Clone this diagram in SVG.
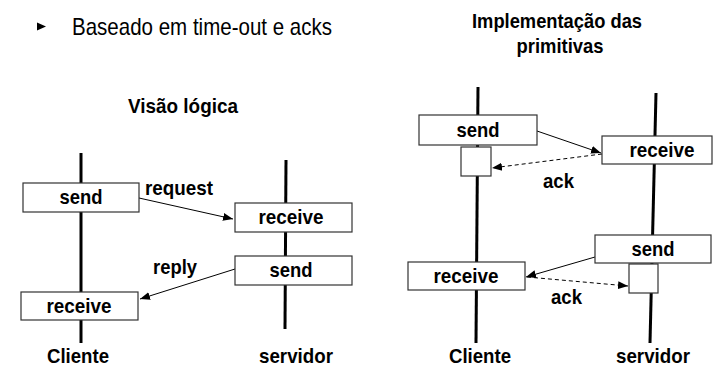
<svg xmlns="http://www.w3.org/2000/svg" width="713" height="375" viewBox="0 0 713 375">
  <defs>
    <style>
      .life { stroke: #000; stroke-width: 3; fill: none; }
      .box rect { fill: #fff; stroke: #333; stroke-width: 1.2; }
      .lbl { font-family: "Liberation Sans Narrow", "Liberation Sans", Arial, sans-serif; font-weight: bold; font-size: 21px; fill: #000; }
      .mid { text-anchor: middle; }
      .msg { stroke: #000; stroke-width: 1; fill: none; marker-end: url(#head); }
      .ack { stroke: #000; stroke-width: 1; fill: none; stroke-dasharray: 4 3; marker-end: url(#head); }
    </style>
    <marker id="head" viewBox="0 0 10 10" refX="10" refY="5" markerWidth="10" markerHeight="10" markerUnits="userSpaceOnUse" orient="auto">
      <path d="M0,1 L10,5 L0,9 Z" fill="#000"/>
    </marker>
  </defs>
  <rect width="713" height="375" fill="#fff"/>

  <!-- heading bullet -->
  <g id="heading">
    <path d="M37,22.5 L46,26.5 L37,30.5 Z" fill="#000"/>
    <text x="72" y="35" font-family="'Liberation Sans Narrow', 'Liberation Sans', Arial, sans-serif" font-size="24" textLength="260" lengthAdjust="spacingAndGlyphs" fill="#000">Baseado em time-out e acks</text>
  </g>

  <!-- section titles -->
  <g id="title-logica">
    <text class="lbl mid" x="183" y="113" textLength="110" lengthAdjust="spacingAndGlyphs">Visão lógica</text>
  </g>
  <g id="title-impl">
    <text class="lbl mid" x="557" y="28" textLength="170" lengthAdjust="spacingAndGlyphs">Implementação das</text>
    <text class="lbl mid" x="560" y="53" textLength="87" lengthAdjust="spacingAndGlyphs">primitivas</text>
  </g>

  <!-- lifelines -->
  <g id="lifelines">
    <line class="life" x1="81" y1="153" x2="81" y2="343"/>
    <line class="life" x1="286" y1="160" x2="285" y2="329"/>
    <line class="life" x1="478" y1="87" x2="476" y2="343"/>
    <line class="life" x1="656" y1="93" x2="650" y2="343"/>
  </g>

  <!-- connectors -->
  <g id="connectors">
    <line class="msg" x1="139" y1="198" x2="233" y2="219"/>
    <line class="msg" x1="235" y1="269" x2="140" y2="299"/>
    <line class="msg" x1="537" y1="131" x2="601" y2="153"/>
    <line class="ack" x1="602" y1="154" x2="492" y2="168"/>
    <line class="msg" x1="595" y1="257" x2="526" y2="277"/>
    <line class="ack" x1="527" y1="277" x2="628" y2="286"/>
  </g>

  <!-- connector labels -->
  <g id="connector-labels">
    <text class="lbl" x="145" y="195" textLength="68" lengthAdjust="spacingAndGlyphs">request</text>
    <text class="lbl" x="153" y="274" textLength="44" lengthAdjust="spacingAndGlyphs">reply</text>
    <text class="lbl" x="543" y="188" textLength="31" lengthAdjust="spacingAndGlyphs">ack</text>
    <text class="lbl" x="551" y="304" textLength="31" lengthAdjust="spacingAndGlyphs">ack</text>
  </g>

  <!-- logical view nodes -->
  <g id="l-client-send" class="box">
    <rect x="23" y="183" width="116" height="29"/>
    <text class="lbl mid" x="81" y="204" textLength="43" lengthAdjust="spacingAndGlyphs">send</text>
  </g>
  <g id="l-server-receive" class="box">
    <rect x="235" y="203" width="117" height="29"/>
    <text class="lbl mid" x="291" y="224" textLength="65" lengthAdjust="spacingAndGlyphs">receive</text>
  </g>
  <g id="l-server-send" class="box">
    <rect x="235" y="256" width="117" height="29"/>
    <text class="lbl mid" x="291" y="277" textLength="43" lengthAdjust="spacingAndGlyphs">send</text>
  </g>
  <g id="l-client-receive" class="box">
    <rect x="21" y="292" width="117" height="28"/>
    <text class="lbl mid" x="79" y="313" textLength="65" lengthAdjust="spacingAndGlyphs">receive</text>
  </g>

  <!-- implementation nodes -->
  <g id="i-client-send" class="box">
    <rect x="419" y="115" width="118" height="30"/>
    <text class="lbl mid" x="478" y="137" textLength="43" lengthAdjust="spacingAndGlyphs">send</text>
  </g>
  <g id="i-client-wait" class="box">
    <rect x="461" y="147" width="30" height="29"/>
  </g>
  <g id="i-server-receive" class="box">
    <rect x="602" y="136" width="110" height="28"/>
    <text class="lbl mid" x="662" y="157" textLength="65" lengthAdjust="spacingAndGlyphs">receive</text>
  </g>
  <g id="i-server-send" class="box">
    <rect x="595" y="235" width="116" height="28"/>
    <text class="lbl mid" x="653" y="256" textLength="43" lengthAdjust="spacingAndGlyphs">send</text>
  </g>
  <g id="i-server-wait" class="box">
    <rect x="629" y="264" width="29" height="29"/>
  </g>
  <g id="i-client-receive" class="box">
    <rect x="408" y="262" width="117" height="28"/>
    <text class="lbl mid" x="466" y="283" textLength="65" lengthAdjust="spacingAndGlyphs">receive</text>
  </g>

  <!-- process names -->
  <g id="names">
    <text class="lbl mid" x="78" y="363" textLength="62" lengthAdjust="spacingAndGlyphs">Cliente</text>
    <text class="lbl mid" x="296" y="363" textLength="74" lengthAdjust="spacingAndGlyphs">servidor</text>
    <text class="lbl mid" x="480" y="363" textLength="62" lengthAdjust="spacingAndGlyphs">Cliente</text>
    <text class="lbl mid" x="653" y="363" textLength="74" lengthAdjust="spacingAndGlyphs">servidor</text>
  </g>
</svg>
